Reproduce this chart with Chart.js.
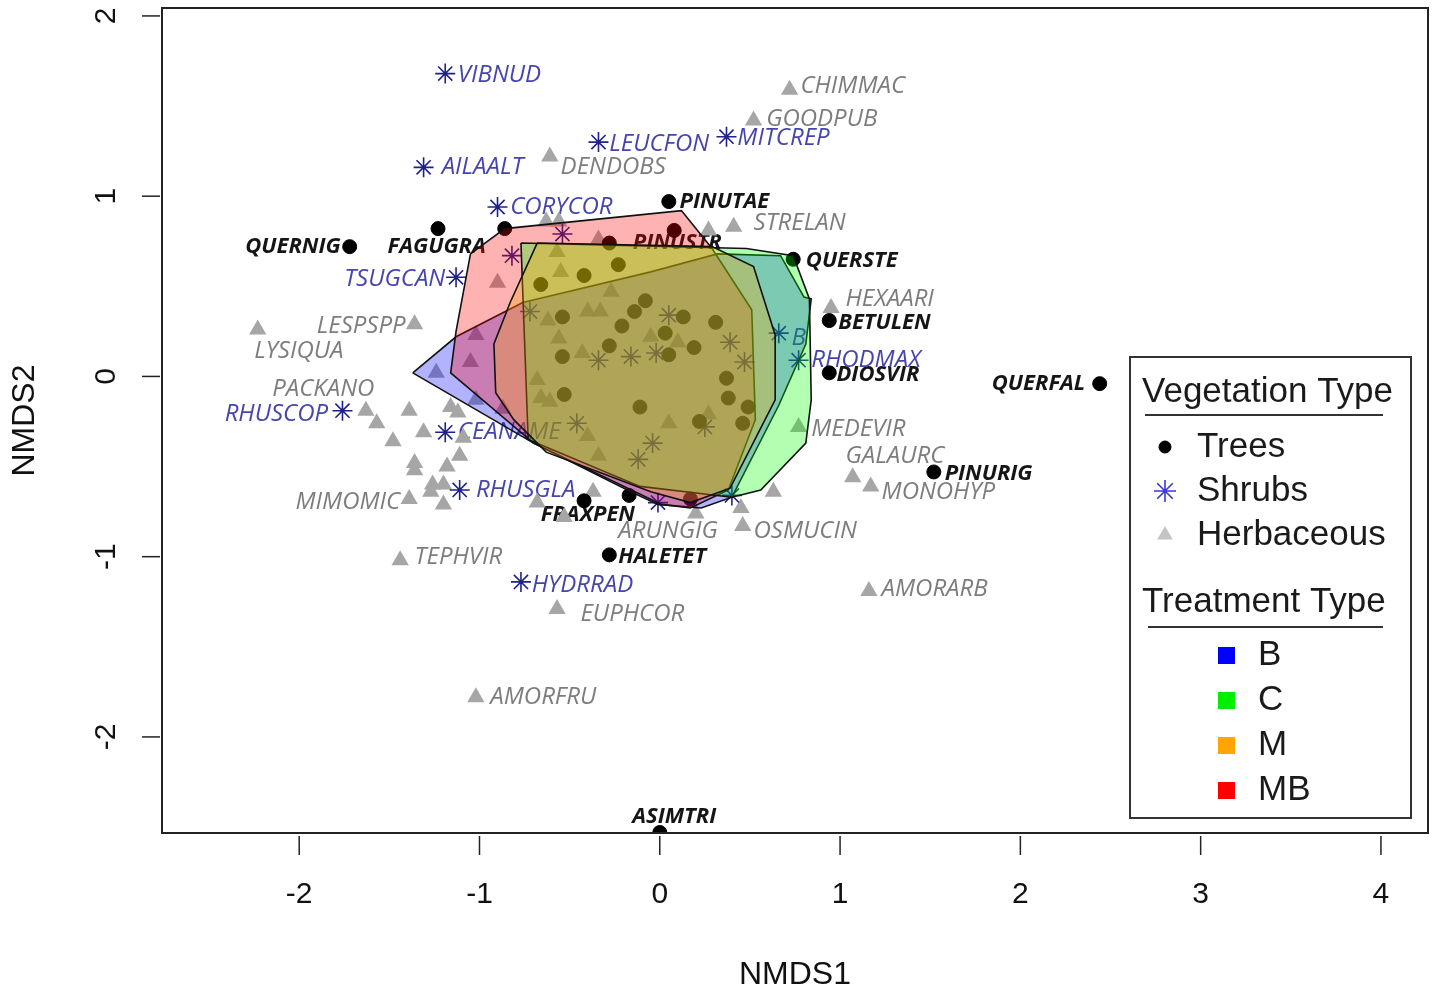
<!DOCTYPE html>
<html>
<head>
<meta charset="utf-8">
<title>NMDS ordination</title>
<script src="https://cdn.jsdelivr.net/npm/chart.js@4.4.1/dist/chart.umd.min.js"></script>
<style>
	html, body { margin: 0; padding: 0; background: #fff; }
	canvas { display: block; }
</style>
</head>
<body>
<canvas id="nmds" width="1434" height="992"></canvas>
<script>
(function() {
	'use strict';

	// Axis ticks
	const xTicks = [-2, -1, 0, 1, 2, 3, 4];
	const yTicks = [-2, -1, 0, 1, 2];

	// Trees (labelled species)
	const treeSpecies = ['QUERNIG', 'FAGUGRA', 'PINUTAE', 'PINUSTR', 'QUERSTE', 'BETULEN', 'DIOSVIR', 'QUERFAL', 'PINURIG', 'FRAXPEN', 'HALETET', 'ASIMTRI'];
	const treeX = [-1.72, -1.23, 0.05, 0.08, 0.74, 0.94, 0.94, 2.44, 1.52, -0.42, -0.28, 0.00];
	const treeY = [0.72, 0.82, 0.97, 0.81, 0.65, 0.31, 0.02, -0.04, -0.53, -0.69, -0.99, -2.53];
	const treeLabelX = [-1.77, -1.51, 0.11, -0.15, 0.81, 0.99, 0.98, 2.36, 1.58, -0.66, -0.23, 0.08];
	const treeLabelY = [0.72, 0.72, 0.97, 0.74, 0.64, 0.30, 0.01, -0.04, -0.54, -0.77, -1.00, -2.44];
	const treeLabelAlign = ['right', 'left', 'left', 'left', 'left', 'left', 'left', 'right', 'left', 'left', 'left', 'center'];
	// Trees (unlabelled)
	const treeOtherX = [-0.86, -0.28, -0.17, 0.17, -0.23, -0.42, -0.66, -0.54, -0.14, -0.08, -0.21, -0.54, -0.28, 0.13, 0.03, 0.31, 0.05, 0.19, 0.37, 0.38, -0.11, 0.22, 0.49, 0.46, -0.53];
	const treeOtherY = [0.82, 0.74, -0.66, -0.68, 0.62, 0.56, 0.51, 0.33, 0.36, 0.42, 0.28, 0.11, 0.17, 0.33, 0.24, 0.30, 0.12, 0.16, -0.01, -0.12, -0.17, -0.25, -0.17, -0.26, -0.10];

	// Shrubs (labelled species)
	const shrubSpecies = ['VIBNUD', 'LEUCFON', 'MITCREP', 'AILAALT', 'CORYCOR', 'TSUGCAN', 'RHUSCOP', 'CEANAME', 'RHUSGLA', 'HYDRRAD', 'RHODMAX', 'B'];
	const shrubX = [-1.19, -0.34, 0.37, -1.31, -0.90, -1.13, -1.76, -1.19, -1.11, -0.77, 0.77, 0.66];
	const shrubY = [1.68, 1.30, 1.33, 1.16, 0.94, 0.55, -0.19, -0.31, -0.63, -1.14, 0.09, 0.24];
	const shrubLabelX = [-1.12, -0.28, 0.43, -1.21, -0.83, -1.19, -1.84, -1.12, -1.02, -0.71, 0.84, 0.73];
	const shrubLabelY = [1.67, 1.29, 1.32, 1.16, 0.94, 0.54, -0.21, -0.31, -0.63, -1.16, 0.09, 0.21];
	const shrubLabelAlign = ['left', 'left', 'left', 'left', 'left', 'right', 'right', 'left', 'left', 'left', 'left', 'left'];
	// Shrubs (unlabelled)
	const shrubOtherX = [-0.82, -0.54, -0.72, -0.34, -0.16, -0.02, 0.05, 0.39, 0.47, -0.46, 0.25, -0.04, -0.12, -0.01, 0.40];
	const shrubOtherY = [0.67, 0.79, 0.36, 0.09, 0.11, 0.13, 0.34, 0.19, 0.08, -0.26, -0.28, -0.37, -0.46, -0.70, -0.66];

	// Herbaceous (labelled species)
	const herbSpecies = ['CHIMMAC', 'GOODPUB', 'DENDOBS', 'STRELAN', 'HEXAARI', 'LESPSPP', 'LYSIQUA', 'PACKANO', 'MEDEVIR', 'GALAURC', 'MONOHYP', 'MIMOMIC', 'OSMUCIN', 'ARUNGIG', 'TEPHVIR', 'EUPHCOR', 'AMORARB', 'AMORFRU'];
	const herbX = [0.72, 0.52, -0.61, 0.41, 0.95, -1.36, -2.23, -1.63, 0.77, 1.07, 1.17, -1.39, 0.46, 0.20, -1.44, -0.57, 1.16, -1.02];
	const herbY = [1.59, 1.42, 1.22, 0.83, 0.38, 0.29, 0.26, -0.19, -0.28, -0.56, -0.61, -0.68, -0.83, -0.76, -1.02, -1.29, -1.19, -1.78];
	const herbLabelX = [0.78, 0.59, -0.55, 0.52, 1.03, -1.41, -2.25, -2.15, 0.84, 1.03, 1.23, -1.44, 0.52, -0.23, -1.36, -0.44, 1.23, -0.94];
	const herbLabelY = [1.61, 1.43, 1.16, 0.85, 0.43, 0.28, 0.14, -0.07, -0.29, -0.44, -0.64, -0.70, -0.86, -0.86, -1.00, -1.32, -1.18, -1.78];
	const herbLabelAlign = ['left', 'left', 'left', 'left', 'left', 'right', 'left', 'left', 'left', 'left', 'left', 'right', 'left', 'left', 'left', 'left', 'left', 'left'];
	// Herbaceous (unlabelled)
	const herbOtherX = [-1.57, -1.39, -1.48, -1.31, -1.16, -1.12, -1.09, -1.11, -1.18, -1.36, -1.36, -1.26, -1.20, -1.27, -1.20, -0.68, -0.53, -1.24, -1.05, -1.02, -0.87, -0.68, -0.66, -0.61, -0.40, -0.34, -0.37, -1.02, -0.90, -0.63, -0.56, -0.57, -0.55, -0.27, -0.40, -0.33, -0.62, -0.56, -0.34, -0.43, 0.27, -0.05, 0.10, 0.05, 0.27, 0.63, 0.45];
	const herbOtherY = [-0.26, -0.19, -0.36, -0.31, -0.17, -0.20, -0.34, -0.44, -0.50, -0.48, -0.52, -0.60, -0.60, -0.64, -0.71, -0.70, -0.78, 0.02, 0.08, -0.13, -0.18, -0.02, -0.12, -0.14, -0.33, -0.44, -0.64, 0.23, 0.52, 0.86, 0.86, 0.69, 0.58, 0.47, 0.36, 0.36, 0.31, 0.21, 0.76, 0.13, 0.81, 0.22, 0.19, -0.26, -0.21, -0.64, -0.73];

	// Treatment hulls
	const hullBX = [-1.37, -1.13, -0.76, -0.05, 0.32, 0.67, 0.80, 0.84, 0.81, 0.66, 0.40, 0.23, -0.01, -0.16, -0.70];
	const hullBY = [0.02, 0.22, 0.41, 0.58, 0.68, 0.67, 0.44, 0.43, 0.18, -0.16, -0.67, -0.73, -0.71, -0.64, -0.37];
	const hullCX = [-0.77, 0.48, 0.74, 0.83, 0.84, 0.81, 0.56, 0.40, -0.11, -0.73];
	const hullCY = [0.74, 0.71, 0.67, 0.43, -0.13, -0.37, -0.63, -0.67, -0.61, -0.35];
	const hullMX = [-0.68, 0.29, 0.52, 0.64, 0.64, 0.39, 0.17, -0.05, -0.63, -0.81, -0.91, -0.92, -0.83];
	const hullMY = [0.74, 0.72, 0.61, 0.23, -0.13, -0.62, -0.70, -0.64, -0.42, -0.24, -0.09, 0.18, 0.41];
	const hullMBX = [-1.05, -0.86, 0.12, 0.29, 0.51, 0.53, 0.38, 0.17, 0.01, -0.70, -1.16, -1.13];
	const hullMBY = [0.68, 0.82, 0.92, 0.71, 0.37, -0.24, -0.63, -0.73, -0.71, -0.37, 0.02, 0.25];

	// Legend entries
	const vegTypes = ['Trees', 'Shrubs', 'Herbaceous'];
	const treatments = ['B', 'C', 'M', 'MB'];
	const treatmentColors = ['#0000ff', '#00ee00', '#ffa500', '#ff0000'];
	const hullFills = ['rgba(0, 0, 255, 0.3)', 'rgba(0, 255, 0, 0.3)', 'rgba(255, 165, 0, 0.3)', 'rgba(255, 0, 0, 0.3)'];

	const AXIS_FONT = '"Liberation Sans", Arial, sans-serif';
	const LABEL_FONT = '"Open Sans", "DejaVu Sans", sans-serif';

	function toPoints(xs, ys) {
		return xs.map((x, i) => ({ x: x, y: ys[i] }));
	}

	function closed(xs, ys) {
		const pts = toPoints(xs, ys);
		pts.push({ x: xs[0], y: ys[0] });
		return pts;
	}

	function hullDataset(label, xs, ys, fill, order) {
		return {
			type: 'line',
			label: label,
			data: closed(xs, ys),
			borderColor: '#111',
			borderWidth: 1.6,
			backgroundColor: fill,
			fill: 'shape',
			tension: 0,
			pointRadius: 0,
			order: order
		};
	}

	const labelGroups = [
		{ names: treeSpecies, lx: treeLabelX, ly: treeLabelY, align: treeLabelAlign, font: 'italic bold 22px ' + LABEL_FONT, color: '#151515' },
		{ names: shrubSpecies, lx: shrubLabelX, ly: shrubLabelY, align: shrubLabelAlign, font: 'italic 24px ' + LABEL_FONT, color: '#4545ad' },
		{ names: herbSpecies, lx: herbLabelX, ly: herbLabelY, align: herbLabelAlign, font: 'italic 24px ' + LABEL_FONT, color: '#7d7d7d' }
	];

	// Species names sit beneath the hulls, like the original
	const speciesLabels = {
		id: 'speciesLabels',
		beforeDatasetsDraw(chart) {
			const ctx = chart.ctx;
			const xs = chart.scales.x;
			const ys = chart.scales.y;
			ctx.save();
			ctx.textBaseline = 'middle';
			labelGroups.forEach(g => {
				ctx.font = g.font;
				ctx.fillStyle = g.color;
				g.names.forEach((name, i) => {
					ctx.textAlign = g.align[i];
					ctx.fillText(name, xs.getPixelForValue(g.lx[i]), ys.getPixelForValue(g.ly[i]));
				});
			});
			ctx.restore();
		}
	};

	function line(ctx, x1, y1, x2, y2) {
		ctx.beginPath();
		ctx.moveTo(x1, y1);
		ctx.lineTo(x2, y2);
		ctx.stroke();
	}

	// Base-R style box, axes and legend
	const rFrame = {
		id: 'rFrame',
		afterDraw(chart) {
			const ctx = chart.ctx;
			const a = chart.chartArea;
			const xs = chart.scales.x;
			const ys = chart.scales.y;

			ctx.save();
			ctx.strokeStyle = '#222';
			ctx.lineWidth = 2;
			ctx.strokeRect(a.left, a.top, a.right - a.left, a.bottom - a.top);

			ctx.lineWidth = 1.5;
			ctx.fillStyle = '#111';
			ctx.font = '30px ' + AXIS_FONT;
			ctx.textAlign = 'center';
			ctx.textBaseline = 'middle';

			xTicks.forEach(v => {
				const px = xs.getPixelForValue(v);
				line(ctx, px, a.bottom + 3, px, a.bottom + 22);
				ctx.fillText(String(v), px, a.bottom + 62);
			});
			yTicks.forEach(v => {
				const py = ys.getPixelForValue(v);
				line(ctx, a.left - 20, py, a.left - 2, py);
				ctx.save();
				ctx.translate(a.left - 55, py);
				ctx.rotate(-Math.PI / 2);
				ctx.fillText(String(v), 0, 0);
				ctx.restore();
			});

			ctx.font = '32px ' + AXIS_FONT;
			ctx.fillText('NMDS1', (a.left + a.right) / 2, 975);
			ctx.save();
			ctx.translate(25, (a.top + a.bottom) / 2);
			ctx.rotate(-Math.PI / 2);
			ctx.fillText('NMDS2', 0, 0);
			ctx.restore();

			// Legend
			ctx.lineWidth = 2;
			ctx.strokeStyle = '#333';
			ctx.strokeRect(1130, 357, 281, 461);
			ctx.font = '35px ' + AXIS_FONT;
			ctx.fillStyle = '#1a1a1a';
			ctx.textAlign = 'left';
			ctx.fillText('Vegetation Type', 1142, 392);
			line(ctx, 1145, 415, 1383, 415);

			const vegStyles = [
				{ pointStyle: 'circle', radius: 6, borderWidth: 1, fill: '#000', stroke: '#000' },
				{ pointStyle: 'star', radius: 11, borderWidth: 1.6, fill: '#3a3ad0', stroke: '#3a3ad0' },
				{ pointStyle: 'triangle', radius: 9, borderWidth: 0, fill: '#c4c4c4', stroke: '#c4c4c4' }
			];
			vegTypes.forEach((name, i) => {
				const yy = 447 + i * 44;
				const s = vegStyles[i];
				ctx.fillStyle = s.fill;
				ctx.strokeStyle = s.stroke;
				ctx.lineWidth = s.borderWidth;
				Chart.helpers.drawPoint(ctx, { pointStyle: s.pointStyle, radius: s.radius, borderWidth: s.borderWidth, rotation: 0 }, 1165, yy);
				ctx.fillStyle = '#1a1a1a';
				ctx.fillText(name, 1197, yy);
			});

			ctx.strokeStyle = '#333';
			ctx.lineWidth = 2;
			ctx.fillText('Treatment Type', 1142, 602);
			line(ctx, 1148, 627, 1383, 627);
			treatments.forEach((name, i) => {
				const yy = 655 + i * 45;
				ctx.fillStyle = treatmentColors[i];
				ctx.fillRect(1218, yy - 8, 17, 17);
				ctx.fillStyle = '#1a1a1a';
				ctx.fillText(name, 1258, yy);
			});
			ctx.restore();
		}
	};

	const ctx = document.getElementById('nmds');

	new Chart(ctx, {
		type: 'scatter',
		data: {
			datasets: [
				{
					label: 'Herbaceous',
					data: toPoints(herbX, herbY).concat(toPoints(herbOtherX, herbOtherY)),
					pointStyle: 'triangle',
					pointRadius: 10,
					backgroundColor: '#a6a6a6',
					borderColor: '#a6a6a6',
					borderWidth: 0,
					order: 12
				},
				{
					label: 'Shrubs',
					data: toPoints(shrubX, shrubY).concat(toPoints(shrubOtherX, shrubOtherY)),
					pointStyle: 'star',
					pointRadius: 10,
					backgroundColor: '#20208c',
					borderColor: '#20208c',
					borderWidth: 1.6,
					order: 11
				},
				{
					label: 'Trees',
					data: toPoints(treeX, treeY).concat(toPoints(treeOtherX, treeOtherY)),
					pointStyle: 'circle',
					pointRadius: 7,
					backgroundColor: '#000',
					borderColor: '#000',
					borderWidth: 1,
					order: 10
				},
				// drawn first to last: B, MB, C, M
				hullDataset('B', hullBX, hullBY, hullFills[0], 4),
				hullDataset('MB', hullMBX, hullMBY, hullFills[3], 3),
				hullDataset('C', hullCX, hullCY, hullFills[1], 2),
				hullDataset('M', hullMX, hullMY, hullFills[2], 1)
			]
		},
		options: {
			responsive: false,
			devicePixelRatio: 1,
			animation: false,
			events: [],
			layout: {
				autoPadding: false,
				padding: { left: 162, right: 6, top: 8, bottom: 159 }
			},
			plugins: {
				legend: { display: false },
				tooltip: { enabled: false }
			},
			scales: {
				x: { type: 'linear', min: -2.761, max: 4.261, display: false },
				y: { type: 'linear', min: -2.533, max: 2.044, display: false }
			}
		},
		plugins: [speciesLabels, rFrame]
	});
})();
</script>
</body>
</html>
